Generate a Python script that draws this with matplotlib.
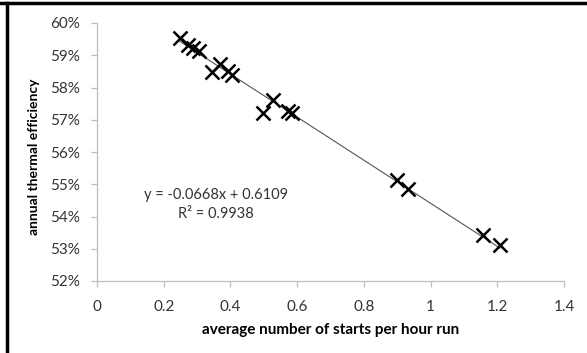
import numpy as np
import matplotlib.pyplot as plt
from matplotlib.lines import Line2D
from matplotlib.ticker import FuncFormatter

# starts per hour vs annual thermal efficiency
starts_per_hour = [0.249, 0.274, 0.289, 0.307, 0.344, 0.369, 0.394, 0.404,
                   0.499, 0.529, 0.574, 0.584, 0.898, 0.933, 1.158, 1.208]
efficiency = [0.5955, 0.5932, 0.5922, 0.5914, 0.5849, 0.5873, 0.5850, 0.5840,
              0.5722, 0.5762, 0.5728, 0.5722, 0.5512, 0.5484, 0.5344, 0.5312]

slope = -0.0668
intercept = 0.6109
r2 = 0.9938

plt.rcParams['font.family'] = ['Lato', 'DejaVu Sans']

fig = plt.figure(figsize=(5.87, 3.53), dpi=100)
ax = fig.add_axes([97 / 587, 1 - 281 / 353, (564 - 97) / 587, (281 - 23) / 353])

# trendline
xs = np.array([min(starts_per_hour), max(starts_per_hour)])
ax.plot(xs, slope * xs + intercept, color='#555555', lw=0.8, zorder=2)
ax.plot(starts_per_hour, efficiency, linestyle='none', marker='x', ms=10,
        mew=1.8, color='black', zorder=3)

ax.set_xlim(0, 1.4)
ax.set_ylim(0.52, 0.60)
ax.set_xticks(np.arange(0, 1.41, 0.2))
ax.set_yticks(np.arange(0.52, 0.601, 0.01))
ax.xaxis.set_major_formatter(FuncFormatter(lambda v, p: '0' if abs(v) < 1e-9 else ('%g' % round(v, 1))))
ax.yaxis.set_major_formatter(FuncFormatter(lambda v, p: '%d%%' % round(v * 100)))

for s in ['top', 'right']:
    ax.spines[s].set_visible(False)
for s in ['left', 'bottom']:
    ax.spines[s].set_color('#bfbfbf')
    ax.spines[s].set_linewidth(0.9)
ax.tick_params(axis='both', colors='#bfbfbf', labelcolor='#333333', labelsize=11, length=4, width=0.9,
               direction='out')
ax.tick_params(axis='x', pad=10)
ax.tick_params(axis='y', pad=8)

ax.set_xlabel('average number of starts per hour run', fontsize=11, fontweight='bold', labelpad=6)
ax.set_ylabel('annual thermal efficiency', fontsize=10, fontweight='bold', labelpad=4)
ax.yaxis.set_label_coords(-0.122, 0.48)

fig.text(216 / 587, 1 - 195 / 353, 'y = -0.0668x + 0.6109', ha='center', va='center',
         fontsize=10.5, color='#333333')
fig.text(216 / 587, 1 - 214 / 353, 'R² = 0.9938', ha='center', va='center',
         fontsize=10.5, color='#333333')

# frame around the chart (top and left only visible)
fig.add_artist(Line2D([0, 1], [1 - 3 / 353, 1 - 3 / 353], color='black', lw=2.5, transform=fig.transFigure))
fig.add_artist(Line2D([7 / 587, 7 / 587], [0, 1 - 3 / 353], color='black', lw=2.5, transform=fig.transFigure))

fig.savefig('out.png', dpi=100)
